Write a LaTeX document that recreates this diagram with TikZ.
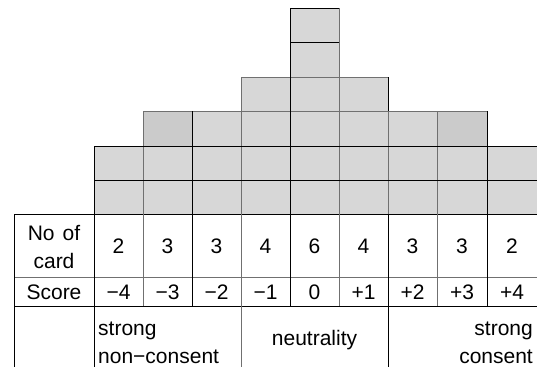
\documentclass[tikz,border=0pt]{standalone}
\usepackage{fontspec}
\setmainfont{Liberation Sans}
\definecolor{cardfill}{HTML}{D7D7D7}
\definecolor{cardfilldark}{HTML}{CBCBCB}
\definecolor{lightline}{HTML}{707070}
\begin{document}
\begin{tikzpicture}[x=1pt,y=-1pt,
  card/.style={fill=cardfill,draw=lightline,line width=1pt},
  darkcard/.style={fill=cardfilldark,draw=lightline,line width=1pt},
  greyline/.style={draw=lightline,line width=1pt},
  blackline/.style={draw=black,line width=1pt},
  txt/.style={inner sep=0pt,anchor=base,font=\fontsize{21}{24}\selectfont},
  txtl/.style={txt,anchor=base west},
  txtr/.style={txt,anchor=base east}]
\useasboundingbox (0,0) rectangle (537,367);
% card columns: x-left, x-right, number of cards
\def\rowy{{214,180,146,111,77,42,8}}
\foreach \xl/\xr/\n [count=\i] in {94/143/2,143/192/3,192/241/3,241/290/4,290/339/6,339/388/4,388/437/3,437/487/3,487/537/2}{
  \foreach \k in {1,...,\n}{
    \pgfmathsetmacro{\yb}{\rowy[\k-1]}
    \pgfmathsetmacro{\yt}{\rowy[\k]}
    \path[card] (\xl,\yb) rectangle (\xr,\yt);
  }
}
% darker top cards
\path[darkcard] (143,146) rectangle (192,111);
\path[darkcard] (437,146) rectangle (487,111);
% black stack lines
\draw[blackline] (94,146) -- (537,146);
\draw[blackline] (94,180) -- (537,180);
\draw[blackline] (290,8) -- (339,8);
\draw[blackline] (290,42) -- (339,42);
\draw[blackline] (94,146) -- (94,214);
\draw[blackline] (192,111) -- (192,214);
\draw[blackline] (290,8) -- (290,214);
\draw[blackline] (388,77) -- (388,111);
\draw[blackline] (487,111) -- (487,214);
% table
\draw[blackline] (14,214) -- (537,214);
\draw[greyline] (14,277) -- (537,277);
\draw[blackline] (14,306) -- (537,306);
\draw[blackline] (14,214) -- (14,367);
\draw[blackline] (94,214) -- (94,367);
\draw[greyline] (143,214) -- (143,306);
\draw[blackline] (192,214) -- (192,306);
\draw[greyline] (241,214) -- (241,367);
\draw[blackline] (290,214) -- (290,306);
\draw[greyline] (339,214) -- (339,306);
\draw[blackline] (388,214) -- (388,367);
\draw[greyline] (437,214) -- (437,306);
\draw[blackline] (487,214) -- (487,306);
% header labels
\node[txt] (noof) at (54,240.5) {No\hspace{8pt}of};
\node[txt] (card) at (54,268) {card};
\node[txt] (score) at (54,299) {Score};
% counts and scores
\foreach \x/\c/\s [count=\i] in {118.5/2/−4,167.5/3/−3,216.5/3/−2,265.5/4/−1,314.5/6/0,363.5/4/+1,412.5/3/+2,462/3/+3,512/2/+4}{
  \node[txt] (n\i) at (\x,253.3) {\c};
  \node[txt] (s\i) at (\x,299) {\s};
}
% bottom row labels
\node[txtl] (strongL) at (98,335) {strong};
\node[txtl] (noncons) at (98,363) {non−consent};
\node[txt] (neutral) at (314.5,345) {neutrality};
\node[txtr] (strongR) at (533,335) {strong};
\node[txtr] (consent) at (533,363) {consent};
\end{tikzpicture}
\end{document}
